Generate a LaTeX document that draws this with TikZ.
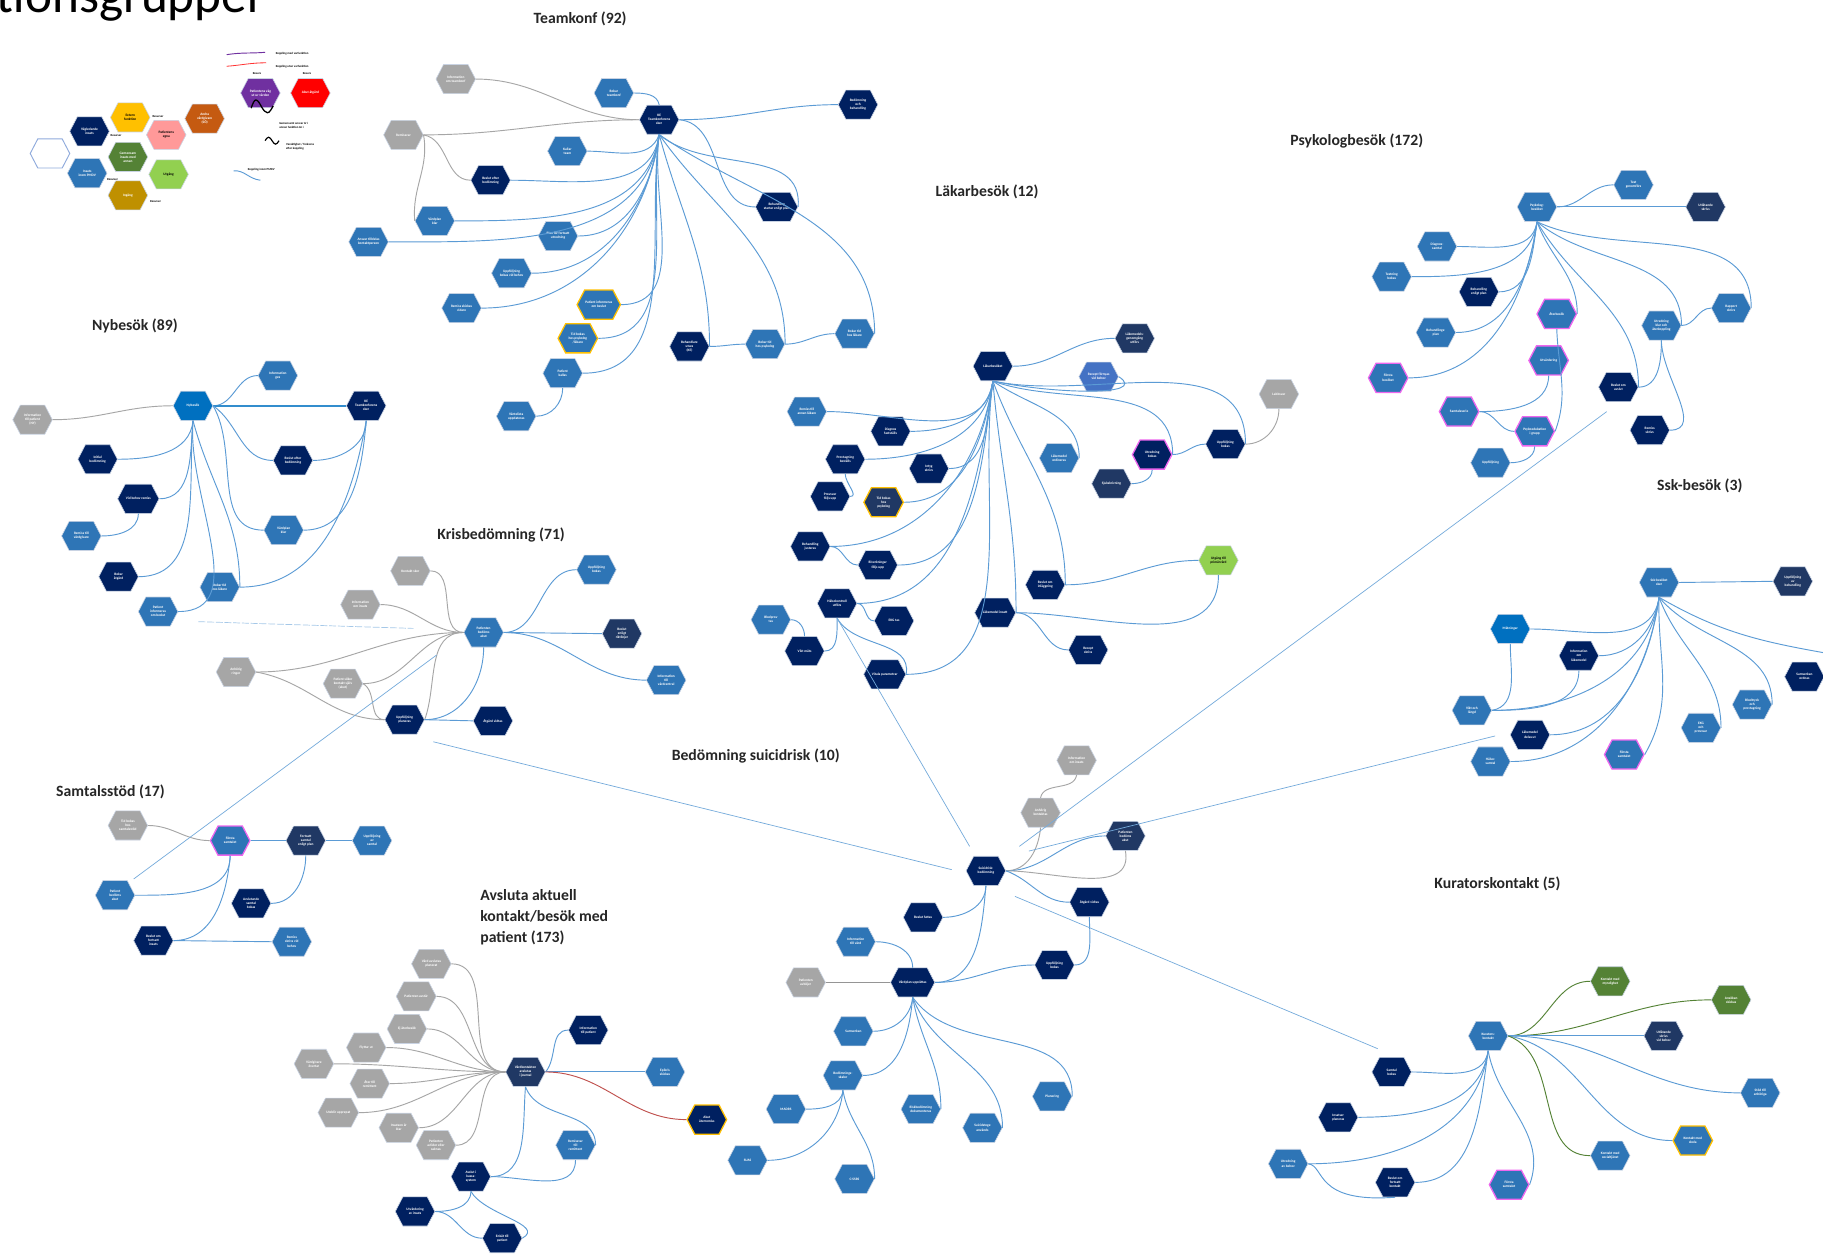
\documentclass[tikz,border=0pt]{standalone}
\usepackage{fontspec}
\setmainfont{Carlito}
\usetikzlibrary{shapes.symbols,calc}

\definecolor{navy}{HTML}{002060}
\definecolor{midblue}{HTML}{2E75B6}
\definecolor{brightblue}{HTML}{0070C0}
\definecolor{slate}{HTML}{203864}
\definecolor{hexgray}{HTML}{A6A6A6}
\definecolor{royal}{HTML}{4472C4}
\definecolor{lime}{HTML}{92D050}
\definecolor{leaf}{HTML}{548235}
\definecolor{amber}{HTML}{FFC000}
\definecolor{pinkedge}{HTML}{EE66EE}
\definecolor{edgeblue}{HTML}{5B9BD5}
\definecolor{edgegray}{HTML}{A6A6A6}
\definecolor{edgered}{HTML}{C0504D}
\definecolor{edgegreen}{HTML}{548235}
\definecolor{rust}{HTML}{C55A11}
\definecolor{salmon}{HTML}{FF9999}
\definecolor{gold}{HTML}{BF9000}
\definecolor{violet}{HTML}{7030A0}
\definecolor{hexedge}{HTML}{C9D3E3}
\definecolor{legendedge}{HTML}{8FAADC}
\definecolor{titlegray}{HTML}{262626}

\tikzset{
  hex/.style={shape=signal, signal to=east and west, signal pointer angle=125,
    minimum width=34pt, minimum height=25pt, inner sep=0.6pt, draw=hexedge,
    line width=0.5pt, text=white, align=center,
    font=\fontsize{3}{3.5}\selectfont\bfseries},
  nv/.style={hex, fill=navy},
  bu/.style={hex, fill=midblue},
  bb/.style={hex, fill=brightblue},
  sl/.style={hex, fill=slate},
  gy/.style={hex, fill=hexgray},
  ry/.style={hex, fill=royal},
  lg/.style={hex, fill=lime, text=black},
  dg/.style={hex, fill=leaf},
  ob/.style={draw=amber, line width=1.1pt},
  pk/.style={draw=pinkedge, line width=1.1pt},
  bl/.style={draw=edgeblue, line width=0.8pt},
  gl/.style={draw=edgegray, line width=0.8pt},
  rl/.style={draw=edgered, line width=0.8pt},
  grl/.style={draw=edgegreen, line width=0.8pt},
  farline/.style={draw=edgeblue!85, line width=0.6pt},
  grouptitle/.style={font=\fontsize{13.5}{17}\selectfont\bfseries, text=titlegray, inner sep=0},
  legtext/.style={font=\fontsize{2.6}{3}\selectfont\bfseries, text=black, inner sep=0, anchor=west},
}

\begin{document}
\begin{tikzpicture}[x=1pt,y=1pt]
\useasboundingbox (0,0) rectangle (1568,-1079);
\fill[white] (0,0) rectangle (1568,-1079);

% page heading, cut by the top edge
\node[anchor=base west, inner sep=0, font=\fontsize{44}{50}\selectfont, text=black] (heading) at (-3,-11) {tionsgrupper};

% ---------------- legend ----------------
\node[hex, fill=white, draw=legendedge, line width=0.8pt] (lgW) at (43,-132) {};
\node[nv] (lgN) at (77,-113) {Vägledande\\insats};
\node[hex, fill=amber, text=black] (lgY) at (112,-101) {Extern\\funktion};
\node[hex, fill=salmon, text=black] (lgS) at (143,-116) {Patientens\\egna};
\node[hex, fill=rust] (lgO) at (176,-102) {Andra\\vårdgivare\\(SÖ)};
\node[dg] (lgG) at (110,-135) {Gemensam\\insats med\\annan};
\node[bu] (lgB) at (75,-149) {Insats\\inom PMDV};
\node[lg] (lgL) at (145,-150) {Utgång};
\node[hex, fill=gold] (lgU) at (110,-168) {Ingång};
\node[legtext] (lgr1) at (131,-100) {Resurser};
\node[legtext] (lgr2) at (95,-117) {Resurser};
\node[legtext] (lgr3) at (92,-154) {Resurser};
\node[legtext] (lgr4) at (129,-173) {Resurser};
\node[hex, fill=violet] (lgP) at (224,-80) {Patientens väg\\ut ur vården};
\node[hex, fill=red] (lgR) at (267,-80) {Akut åtgärd};
\node[legtext, anchor=center] (lgrp) at (221,-63) {Resurs};
\node[legtext, anchor=center] (lgrr) at (264,-63) {Resurs};
\draw[violet, line width=0.8pt] (195,-47) .. controls (208,-45) and (216,-46) .. (228,-45);
\node[legtext] (lgl1) at (237,-46) {Koppling med varfunktion};
\draw[red!80, line width=0.7pt] (195,-57) .. controls (208,-56) and (216,-54) .. (229,-54);
\node[legtext] (lgl2) at (237,-57) {Koppling utan varfunktion};
\draw[black, line width=1.1pt] (216,-93) sin (220,-86) cos (225,-92) sin (230,-97) cos (235,-91);
\node[legtext, align=left] (lgl3) at (240,-108) {Gemensamt ansvar är i\\annan funktion än i};
\draw[black, line width=1pt] (228,-121) sin (231,-118) cos (234,-121) sin (237,-124) cos (240,-121);
\node[legtext, align=left] (lgl4) at (246,-126) {Varaktighet / frekvens\\efter koppling};
\draw[edgeblue, line width=0.8pt] (201,-147) .. controls (210,-146) and (214,-154) .. (224,-155);
\node[legtext] (lgl5) at (213,-146) {Koppling inom PMDV};

% ---------------- group titles ----------------
\node[grouptitle] (ttTeam) at (499,-16) {Teamkonf (92)};
\node[grouptitle] (ttLak) at (849,-165) {Läkarbesök (12)};
\node[grouptitle] (ttPsy) at (1167,-121) {Psykologbesök (172)};
\node[grouptitle] (ttNy) at (116,-280) {Nybesök (89)};
\node[grouptitle] (ttKris) at (431,-460) {Krisbedömning (71)};
\node[grouptitle] (ttSsk) at (1462,-418) {Ssk-besök (3)};
\node[grouptitle] (ttSui) at (650,-650) {Bedömning suicidrisk (10)};
\node[grouptitle] (ttSam) at (95,-681) {Samtalsstöd (17)};
\node[grouptitle, align=left, anchor=north west, font=\fontsize{13.5}{18}\selectfont\bfseries] (ttAvs) at (413,-765) {Avsluta aktuell\\kontakt/besök med\\patient (173)};
\node[grouptitle] (ttKur) at (1288,-760) {Kuratorskontakt (5)};

% ---------------- Teamkonf ----------------
\node[gy] (tA) at (392,-68) {Information\\om teamkonf};
\node[bu] (tB) at (528,-80) {Bokar\\teamkonf};
\node[nv] (tC) at (567,-103) {KE\\Teamkonferens\\sker};
\node[nv] (tR) at (738,-90) {Bedömning\\och\\behandling};
\node[gy] (tD) at (347,-116) {Remissvar};
\node[bu] (tE) at (488,-130) {Kallar\\team};
\node[nv] (tF) at (422,-155) {Beslut efter\\bedömning};
\node[bu] (tG) at (374,-190) {Vårdplan\\klar};
\node[bu] (tH) at (317,-208) {Ansvar tilldelas\\kontaktperson};
\node[nv] (tI) at (668,-178) {Behandling\\startar enligt plan};
\node[bu] (tJ) at (480,-203) {Plan för fortsatt\\utredning};
\node[bu] (tK) at (440,-235) {Uppföljning\\bokas vid behov};
\node[bu] (tL) at (397,-265) {Remiss skickas\\vidare};
\node[bu, ob] (tM) at (515,-262) {Patient informeras\\om beslut};
\node[bu, ob] (tN) at (497,-291) {Tid bokas\\hos psykolog\\/läkare};
\node[nv] (tO) at (593,-298) {Behandlare\\utses\\(KE)};
\node[bu] (tP) at (658,-296) {Bokar tid\\hos psykolog};
\node[bu] (tQ) at (735,-287) {Bokar tid\\hos läkare};
\node[bu] (tS) at (484,-321) {Patient\\kallas};
\node[bu] (tT) at (444,-358) {Väntelista\\uppdateras};

\draw[gl] (tA.east) to[out=0,in=180] (tC.west);
\draw[gl] (tD.east) to[out=0,in=180] (tC.west);
\draw[gl] (tD.east) to[out=-10,in=180] (tF.west);
\draw[gl] (tD.east) to[out=-80,in=95] (tG.west);
\draw[bl] (tB.east) to[out=0,in=100] (tC.north);
\draw[bl] (tE.east) to[out=0,in=-110] (tC.south);
\foreach \n in {tF,tG,tH,tJ,tK,tL,tM,tN,tS}
  \draw[bl] (\n.east) to[out=0,in=-98] (tC.south);
\draw[bl] (tS.south) to[out=-90,in=0] (tT.east);
\draw[bl] (tC.east) to[out=0,in=180] (tR.west);
\draw[bl] (tC.east) to[out=-5,in=180] (tI.west);
\draw[bl] (tC.south) to[out=-40,in=85] (tI.east);
\draw[bl] (tC.south) to[out=-75,in=90] (tO.east);
\draw[bl] (tO.east) to[out=0,in=180] (tP.west);
\draw[bl] (tC.south) to[out=-55,in=90] (tP.east);
\draw[bl] (tP.east) to[out=0,in=180] (tQ.west);
\draw[bl] (tC.south) to[out=-35,in=90] (tQ.east);

% ---------------- Nybesök ----------------
\node[gy] (nG) at (28,-361) {Information\\till patient\\(NY)};
\node[bb] (n0) at (166,-349) {Nybesök};
\node[bu] (nTB) at (239,-323) {Information\\ges};
\node[nv] (nR) at (315,-349) {KE\\Teamkonferens\\sker};
\node[nv] (n1) at (84,-395) {Initial\\bedömning};
\node[nv] (n2) at (252,-396) {Beslut efter\\bedömning};
\node[nv] (n3) at (119,-429) {Vid behov remiss};
\node[bu] (n4) at (70,-461) {Remiss till\\vårdgivare};
\node[bu] (n5) at (244,-456) {Vårdplan\\klar};
\node[nv] (n6) at (102,-496) {Bokar\\åtgärd};
\node[bu] (n7) at (189,-505) {Bokar tid\\hos läkare};
\node[bu] (n8) at (136,-526) {Patient\\informeras\\om beslut};

\draw[gl] (nG.east) to[out=0,in=180] (n0.west);
\draw[bl] (n0.east) to[out=0,in=180] (nTB.west);
\draw[draw=brightblue!80, line width=1.8pt] (n0.east) -- (nR.west);
\foreach \n in {n1,n3,n6,n8}
  \draw[bl] (\n.east) to[out=0,in=-95] (n0.south);
\draw[bl] (n3.south) to[out=-90,in=0] (n4.east);
\draw[bl] (n0.south) to[out=-75,in=90] (n7.east);
\draw[bl] (n0.east) to[out=-35,in=180] (n2.west);
\draw[bl] (n0.east) to[out=-60,in=180] (n5.west);
\draw[bl] (nR.south) to[out=-90,in=0] (n2.east);
\draw[bl] (nR.south) to[out=-95,in=0] (n5.east);
\draw[bl] (nR.south) to[out=-100,in=0] (n7.east);

% ---------------- Krisbedömning ----------------
\node[gy] (krG1) at (353,-491) {Kontakt sker};
\node[gy] (krG2) at (310,-520) {Information\\om insats};
\node[gy] (krG3) at (203,-578) {Anhörig\\ringer};
\node[gy] (krG4) at (295,-588) {Patient söker\\kontakt själv\\(akut)};
\node[bu] (kr0) at (416,-544) {Patienten\\bedöms\\akut};
\node[bu] (krB1) at (513,-490) {Uppföljning\\bokas};
\node[sl] (krS) at (535,-545) {Beslut\\enligt\\riktlinjer};
\node[bu] (krB2) at (573,-585) {Information\\till\\vårdcentral};
\node[nv] (krN1) at (348,-619) {Uppföljning\\planeras};
\node[nv] (krN2) at (424,-620) {Åtgärd vidtas};

\draw[gl] (krG1.east) to[out=0,in=180] (kr0.west);
\draw[gl] (krG2.east) to[out=0,in=180] (kr0.west);
\draw[gl] (krG3.east) to[out=0,in=180] (kr0.west);
\draw[gl] (krG3.east) to[out=-10,in=180] (krN1.west);
\draw[gl] (krG4.east) to[out=0,in=180] (kr0.west);
\draw[gl] (krG4.east) to[out=-30,in=180] (krN1.west);
\draw[gl] (krN1.east) to[out=70,in=180] (kr0.west);
\draw[bl] (krN1.east) to[out=0,in=-90] (kr0.south);
\draw[bl] (krN1.east) -- (krN2.west);
\draw[bl] (kr0.east) to[out=0,in=180] (krB1.west);
\draw[bl] (kr0.east) -- (krS.west);
\draw[bl] (kr0.east) to[out=0,in=180] (krB2.west);

% ---------------- Samtalsstöd ----------------
\node[gy] (stG) at (110,-710) {Tid bokas\\hos\\samtalsstöd};
\node[bu, pk] (stP) at (198,-723) {Första\\samtalet};
\node[sl] (stS) at (263,-723) {Fortsatt\\samtal\\enligt plan};
\node[bu] (stB1) at (320,-723) {Uppföljning\\av\\samtal};
\node[bu] (stB2) at (99,-770) {Patient\\bedöms\\akut};
\node[nv] (stN1) at (216,-777) {Avslutande\\samtal\\bokas};
\node[nv] (stN2) at (132,-809) {Beslut om\\fortsatt\\insats};
\node[bu] (stB3) at (251,-810) {Remiss\\skrivs vid\\behov};

\draw[gl] (stG.east) to[out=0,in=180] (stP.west);
\draw[bl] (stP.east) -- (stS.west);
\draw[bl] (stS.east) -- (stB1.west);
\draw[bl] (stS.south) to[out=-90,in=0] (stN1.east);
\draw[bl] (stP.south) to[out=-90,in=0] (stB2.east);
\draw[bl] (stP.south) to[out=-95,in=0] (stN2.east);
\draw[bl] (stN2.east) -- (stB3.west);

% ---------------- Avsluta aktuell kontakt ----------------
\node[gy] (aG1) at (371,-829) {Vård avslutas\\planerat};
\node[gy] (aG2) at (358,-857) {Patienten avstår};
\node[gy] (aG3) at (350,-885) {Ej återbesök};
\node[gy] (aG4) at (315,-901) {Flyttar ut};
\node[gy] (aG5) at (270,-915) {Vårdgivare\\övertar};
\node[gy] (aG6) at (318,-932) {Åter till\\remittent};
\node[gy] (aG7) at (291,-957) {Uteblir upprepat};
\node[gy] (aG8) at (343,-970) {Insatsen är\\klar};
\node[gy] (aG9) at (375,-985) {Patienten\\avlider eller\\saknas};
\node[sl] (a0) at (452,-922) {Vårdkontakten\\avslutas\\i journal};
\node[nv] (aN1) at (506,-886) {Information\\till patient};
\node[bu] (aB1) at (572,-922) {Epikris\\skickas};
\node[nv, ob] (aO) at (608,-963) {Akut\\återremiss};
\node[bu] (aB2) at (495,-985) {Remissvar\\till\\remittent};
\node[nv] (aN2) at (405,-1012) {Avslut i\\kassa-\\system};
\node[nv] (aN3) at (357,-1042) {Utvärdering\\av insats};
\node[nv] (aN4) at (432,-1065) {Enkät till\\patient};

\foreach \n in {aG1,aG2,aG3,aG4,aG5,aG6,aG7,aG8,aG9}
  \draw[gl] (\n.east) to[out=0,in=180] (a0.west);
\draw[bl] (a0.east) to[out=50,in=180] (aN1.west);
\draw[bl] (a0.east) -- (aB1.west);
\draw[rl] (a0.east) to[out=0,in=180] (aO.west);
\draw[bl] (a0.south) to[out=-70,in=90] (aB2.east);
\draw[bl] (a0.south) to[out=-95,in=0] (aN2.east);
\draw[bl] (aB2.south) to[out=-90,in=0] (aN2.east);
\draw[bl] (aN2.south) to[out=-90,in=0] (aN3.east);
\draw[bl] (aN2.south) to[out=-60,in=30] (aN4.east);
\draw[bl] (aN3.east) to[out=0,in=180] (aN4.west);

% ---------------- Bedömning suicidrisk ----------------
\node[gy] (bG1) at (926,-654) {Information\\om insats};
\node[gy] (bG2) at (895,-699) {Anhörig\\kontaktas};
\node[sl] (bS) at (968,-719) {Patienten\\bedöms\\akut};
\node[nv] (b0) at (848,-749) {Suicidrisk-\\bedömning};
\node[nv] (bN1) at (794,-789) {Beslut fattas};
\node[nv] (bN2) at (937,-776) {Åtgärd vidtas};
\node[bu] (bB1) at (736,-810) {Information\\till vård};
\node[nv] (bN3) at (907,-830) {Uppföljning\\bokas};
\node[gy] (bG3) at (693,-845) {Patienten\\avböjer};
\node[nv] (b1) at (785,-845) {Vårdplan upprättas};
\node[bu] (bB2) at (734,-887) {Samverkan};
\node[bu] (bB3) at (725,-925) {Bedömnings-\\skalor};
\node[bu] (bB4) at (905,-943) {Planering};
\node[bu] (bB5) at (676,-954) {MADRS};
\node[bu] (bB6) at (792,-954) {Riskbedömning\\dokumenteras};
\node[bu] (bB7) at (845,-970) {Suicidstege\\används};
\node[bu] (bB8) at (643,-998) {SUAS};
\node[bu] (bB9) at (735,-1014) {C-SSRS};

\draw[gl] (bG1.south) to[out=-100,in=80] (bG2.north);
\draw[gl] (bG2.south) to[out=-95,in=0] (b0.east);
\draw[bl] (b0.east) to[out=0,in=180] (bS.west);
\draw[gl] (b0.east) to[out=0,in=-80] (bS.south);
\draw[bl] (b0.east) to[out=-20,in=180] (bN2.west);
\draw[bl] (b0.south) to[out=-90,in=0] (bN1.east);
\draw[bl] (b0.south) to[out=-95,in=0] (b1.east);
\draw[bl] (bN2.south) to[out=-90,in=0] (bN3.east);
\draw[bl] (b1.east) to[out=0,in=180] (bN3.west);
\draw[bl] (bB1.east) to[out=0,in=90] (b1.north);
\draw[draw=edgegray!90!black, line width=1.6pt] (bG3.east) -- (b1.west);
\draw[bl] (b1.south) to[out=-95,in=0] (bB2.east);
\draw[bl] (b1.south) to[out=-95,in=0] (bB3.east);
\draw[bl] (b1.south) to[out=-80,in=90] (bB6.east);
\draw[bl] (b1.south) to[out=-70,in=90] (bB7.east);
\draw[bl] (b1.south) to[out=-55,in=90] (bB4.east);
\draw[bl] (bB3.south) to[out=-95,in=0] (bB5.east);
\draw[bl] (bB3.south) to[out=-95,in=0] (bB8.east);
\draw[bl] (bB3.south) to[out=-80,in=90] (bB9.east);

% ---------------- Läkarbesök ----------------
\node[nv] (l0) at (854,-315) {Läkarbesöket};
\node[sl] (lS1) at (976,-291) {Läkemedels-\\genomgång\\utförs};
\node[ry] (lR) at (945,-324) {Recept förnyas\\vid behov};
\node[gy] (lG) at (1100,-339) {Labbsvar};
\node[bu] (lB1) at (694,-354) {Remiss till\\annan läkare};
\node[nv] (lN1) at (766,-371) {Diagnos\\fastställs};
\node[nv] (lN2) at (727,-395) {Provtagning\\beställs};
\node[nv] (lN3) at (799,-403) {Intyg\\skrivs};
\node[bu] (lB2) at (911,-394) {Läkemedel\\ordineras};
\node[nv, pk] (lM) at (991,-391) {Utredning\\bokas};
\node[nv] (lN4) at (1054,-382) {Uppföljning\\bokas};
\node[sl] (lS2) at (956,-416) {Sjukskrivning};
\node[nv] (lN5) at (714,-427) {Provsvar\\följs upp};
\node[sl, ob] (lO) at (760,-432) {Tid bokas\\hos\\psykolog};
\node[nv] (lN6) at (697,-470) {Behandling\\justeras};
\node[nv] (lN7) at (755,-486) {Biverkningar\\följs upp};
\node[lg] (lL) at (1048,-482) {Utgång till\\primärvård};
\node[nv] (lN8) at (899,-503) {Beslut om\\inläggning};
\node[nv] (lN9) at (720,-519) {Hälsokontroll\\utförs};
\node[nv] (lN10) at (856,-527) {Läkemedel insatt};
\node[nv] (lN11) at (769,-534) {EKG tas};
\node[bu] (lB3) at (663,-533) {Blodprov\\tas};
\node[nv] (lN12) at (692,-560) {Vikt mäts};
\node[nv] (lN13) at (936,-559) {Recept\\skrivs};
\node[nv] (lN14) at (761,-580) {Vitala parametrar};

\draw[bl] (l0.east) to[out=0,in=180] (lS1.west);
\draw[bl] (l0.south) .. controls (900,-338) and (990,-342) .. (lR.east);
\foreach \n in {lB1,lN1,lN2,lN3,lO,lN6,lN7,lN9,lN14}
  \draw[bl] (\n.east) to[out=0,in=-98] (l0.south);
\draw[bl] (lN2.south) to[out=-90,in=0] (lN5.east);
\draw[bl] (lN6.east) to[out=0,in=180] (lN7.west);
\draw[bl] (lN9.east) to[out=0,in=180] (lN11.west);
\draw[bl] (lN9.south) to[out=-90,in=0] (lN12.east);
\draw[bl] (lB3.east) to[out=0,in=90] (lN12.north);
\draw[bl] (lN9.south) to[out=-60,in=80] (lN14.east);
\draw[bl] (l0.south) to[out=-85,in=90] (lN10.east);
\draw[bl] (l0.south) to[out=-70,in=90] (lN8.east);
\draw[bl] (l0.south) to[out=-35,in=90] (lB2.east);
\draw[bl] (l0.south) to[out=-20,in=90] (lM.east);
\draw[bl] (l0.south) to[out=-12,in=90] (lN4.east);
\draw[bl] (lM.east) to[out=0,in=180] (lN4.west);
\draw[bl] (lM.south) to[out=-90,in=0] (lS2.east);
\draw[gl] (lN4.east) to[out=0,in=-90] (lG.south);
\draw[bl] (lN8.east) to[out=0,in=180] (lL.west);
\draw[bl] (lN10.east) to[out=0,in=-90] (lL.south);
\draw[bl] (lN10.east) to[out=0,in=180] (lN13.west);

% ---------------- Psykologbesök ----------------
\node[bu] (p0) at (1322,-178) {Psykolog-\\besöket};
\node[bu] (pB1) at (1405,-159) {Test\\genomförs};
\node[sl] (pS) at (1467,-178) {Utlåtande\\skrivs};
\node[bu] (pB2) at (1236,-212) {Diagnos-\\samtal};
\node[bu] (pB3) at (1197,-238) {Testning\\bokas};
\node[nv] (pN1) at (1272,-251) {Behandling\\enligt plan};
\node[bu, pk] (pM1) at (1339,-270) {Återbesök};
\node[bu] (pB4) at (1489,-265) {Rapport\\skrivs};
\node[bu] (pB5) at (1429,-280) {Utredning\\klar och\\återkoppling};
\node[bu] (pB6) at (1235,-286) {Behandlings-\\plan};
\node[bu, pk] (pM2) at (1332,-310) {Utvärdering};
\node[bu, pk] (pM3) at (1194,-325) {Första\\besöket};
\node[nv] (pN2) at (1392,-333) {Beslut om\\avslut};
\node[bu, pk] (pM4) at (1255,-354) {Samtalsserie};
\node[nv] (pN3) at (1419,-370) {Remiss\\skrivs};
\node[bu, pk] (pM5) at (1320,-371) {Psykoedukation\\i grupp};
\node[bu] (pB7) at (1282,-398) {Uppföljning};

\draw[bl] (p0.east) to[out=0,in=180] (pB1.west);
\draw[bl] (p0.east) -- (pS.west);
\foreach \n in {pB2,pB3,pN1,pB6,pM3}
  \draw[bl] (\n.east) to[out=0,in=-98] (p0.south);
\draw[bl] (p0.south) to[out=-70,in=90] (pM1.east);
\draw[bl] (pM1.south) to[out=-88,in=70] (pM5.east);
\draw[bl] (pM2.south) to[out=-90,in=0] (pM4.east);
\draw[bl] (pM4.east) to[out=0,in=180] (pM5.west);
\draw[bl] (pM5.south) to[out=-90,in=0] (pB7.east);
\draw[bl] (p0.south) to[out=-60,in=90] (pN2.east);
\draw[bl] (p0.south) to[out=-40,in=90] (pB5.east);
\draw[bl] (p0.south) to[out=-25,in=90] (pB4.east);
\draw[bl] (pB5.east) to[out=0,in=180] (pB4.west);
\draw[bl] (pB5.south) to[out=-90,in=0] (pN2.east);
\draw[bl] (pB5.south) to[out=-90,in=0] (pN3.east);

% ---------------- Ssk-besök ----------------
\node[bu] (sk0) at (1427,-501) {Ssk-besöket\\sker};
\node[sl] (skS) at (1542,-500) {Uppföljning\\av\\behandling};
\node[bb] (skB1) at (1299,-541) {Mätningar};
\node[nv] (skN1) at (1358,-564) {Information\\om\\läkemedel};
\node[nv] (skN2) at (1552,-582) {Samverkan\\ordnas};
\node[bu] (skB2) at (1507,-606) {Blodtryck\\och\\provtagning};
\node[bu] (skB3) at (1266,-611) {Vikt och\\längd};
\node[bu] (skB4) at (1463,-626) {EKG\\och\\provsvar};
\node[nv] (skN3) at (1316,-632) {Läkemedel\\delas ut};
\node[bu, pk] (skM) at (1397,-649) {Första\\samtalet};
\node[bu] (skB5) at (1282,-655) {Hälso-\\samtal};
\coordinate (skOut) at (1572,-562);

\draw[bl] (sk0.east) -- (skS.west);
\foreach \n in {skB1,skN1,skB3,skN3,skB5}
  \draw[bl] (\n.east) to[out=0,in=-98] (sk0.south);
\draw[bl] (sk0.south) to[out=-92,in=60] (skM.east);
\draw[bl] (sk0.south) to[out=-70,in=90] (skB4.east);
\draw[bl] (sk0.south) to[out=-50,in=90] (skB2.east);
\draw[bl] (sk0.south) to[out=-30,in=170] (skOut);
\draw[bl] (skN1.south) to[out=-90,in=0] (skB3.east);
\draw[bl] (skB1.south) to[out=-90,in=10] (skB3.east);

% ---------------- Kuratorskontakt ----------------
\node[bu] (ku0) at (1280,-891) {Kurators-\\kontakt};
\node[dg] (kuG1) at (1385,-844) {Kontakt med\\myndighet};
\node[dg] (kuG2) at (1489,-860) {Ansökan\\skickas};
\node[sl] (kuS) at (1431,-891) {Utlåtande\\skrivs\\vid behov};
\node[nv] (kuN1) at (1197,-922) {Samtal\\bokas};
\node[bu] (kuB1) at (1514,-940) {Stöd till\\anhöriga};
\node[nv] (kuN2) at (1151,-961) {Insatser\\planeras};
\node[bu, ob] (kuO) at (1456,-981) {Kontakt med\\skola};
\node[bu] (kuB2) at (1385,-994) {Kontakt med\\socialtjänst};
\node[bu] (kuB3) at (1108,-1001) {Utredning\\av behov};
\node[nv] (kuN3) at (1200,-1017) {Beslut om\\fortsatt\\kontakt};
\node[bu, pk] (kuM) at (1298,-1019) {Första\\samtalet};

\draw[grl] (ku0.east) to[out=0,in=180] (kuG1.west);
\draw[grl] (ku0.east) to[out=0,in=180] (kuG2.west);
\draw[bl] (ku0.east) -- (kuS.west);
\draw[bl] (ku0.east) to[out=0,in=180] (kuB1.west);
\draw[bl] (ku0.east) to[out=-10,in=180] (kuO.west);
\draw[grl] (ku0.east) to[out=-20,in=180] (kuB2.west);
\foreach \n in {kuN1,kuN2,kuB3,kuN3}
  \draw[bl] (\n.east) to[out=0,in=-98] (ku0.south);
\draw[bl] (ku0.south) to[out=-80,in=70] (kuM.east);
\draw[bl] (kuB3.east) .. controls (1140,-1003) and (1130,-1035) .. (kuN3.south);

% ---------------- links between the groups ----------------
\coordinate (fwA) at (818.6,-748);
\coordinate (fwB) at (372.7,-638);
\coordinate (fuA) at (834,-728);
\coordinate (frA) at (876.7,-728);
\coordinate (frB) at (1382,-354);
\coordinate (fsA) at (885,-732);
\coordinate (fsB) at (1286,-633);
\coordinate (fkA) at (873,-771);
\coordinate (fkB) at (1185,-902);
\coordinate (fmA) at (115,-756);
\coordinate (fmB) at (375.5,-563.4);
\coordinate (fnA) at (170.6,-534.7);
\coordinate (fnB) at (355.5,-540.5);
\draw[farline] (fwA) -- (fwB);
\draw[farline] (fuA) -- (lN9.south);
\draw[farline] (frA) -- (frB);
\draw[farline] (fsA) -- (fsB);
\draw[farline] (fkA) -- (fkB);
\draw[farline] (fmA) -- (fmB);
\draw[farline, draw=edgeblue!55, dash pattern=on 6pt off 1.5pt] (fnA) -- (fnB);

\end{tikzpicture}
\end{document}
